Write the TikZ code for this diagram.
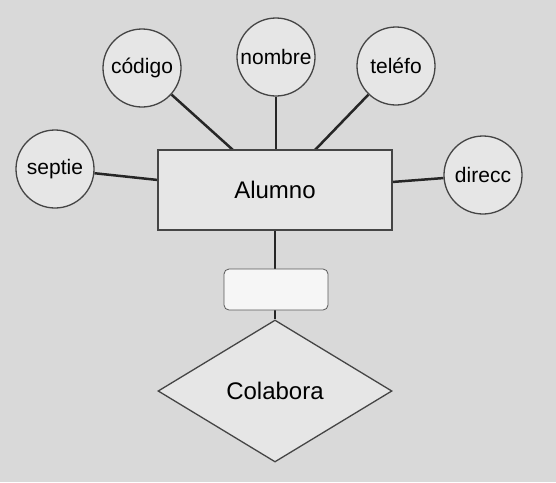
\documentclass[tikz,border=0pt]{standalone}
\usepackage{fontspec}
\setmainfont{Liberation Sans}
\usetikzlibrary{shapes.geometric,backgrounds}
\definecolor{bg}{HTML}{D9D9D9}
\definecolor{shapefill}{HTML}{E6E6E6}
\definecolor{edgecol}{HTML}{454545}
\definecolor{linkcol}{HTML}{262626}
\definecolor{boxfill}{HTML}{F6F6F6}
\tikzset{
  attr/.style={circle, draw=edgecol, fill=shapefill, line width=1.3pt, minimum size=78pt, inner sep=0pt, font=\fontsize{21}{24}\selectfont},
  entity/.style={rectangle, draw=edgecol, fill=shapefill, line width=1.3pt, minimum width=234pt, minimum height=80pt, inner sep=0pt, font=\fontsize{24}{28}\selectfont},
  rel/.style={diamond, draw=edgecol, fill=shapefill, line width=1.3pt, minimum width=234pt, minimum height=142pt, inner sep=0pt, aspect=1.65, font=\fontsize{24}{28}\selectfont},
  tag/.style={rectangle, rounded corners=5pt, draw=gray!70!black, fill=boxfill, line width=0.8pt, minimum width=104pt, minimum height=41pt, inner sep=0pt},
  link/.style={draw=linkcol, line width=2.5pt}
}
\begin{document}
\begin{tikzpicture}[x=1pt,y=-1pt]
\node[entity] (alumno) at (275,190) {Alumno};
\node[attr] (codigo) at (142,68) {código};
\node[attr] (nombre) at (276,57) {nombre};
\node[attr] (telefo) at (396,66) {teléfo};
\node[attr] (septie) at (55,169) {septie};
\node[attr] (direcc) at (483,175) {direcc};
\node[tag] (tag) at (276,289.5) {};
\node[rel] (colabora) at (275,391) {Colabora};
\coordinate (c1) at (233,150);
\coordinate (c2) at (276,150);
\coordinate (c3) at (315,150);
\coordinate (c4) at (158,180);
\coordinate (c5) at (392,182);
\begin{scope}[on background layer]
\fill[bg] (0,0) rectangle (556,482);
\draw[link] (codigo) -- (c1);
\draw[link] (nombre) -- (c2);
\draw[link] (telefo) -- (c3);
\draw[link] (septie) -- (c4);
\draw[link] (direcc) -- (c5);
\draw[link] (alumno.south) -- (alumno.south |- tag.north);
\draw[link] (colabora.north |- tag.south) -- (colabora.north);
\end{scope}
\useasboundingbox (0,0) rectangle (556,482);
\end{tikzpicture}
\end{document}
